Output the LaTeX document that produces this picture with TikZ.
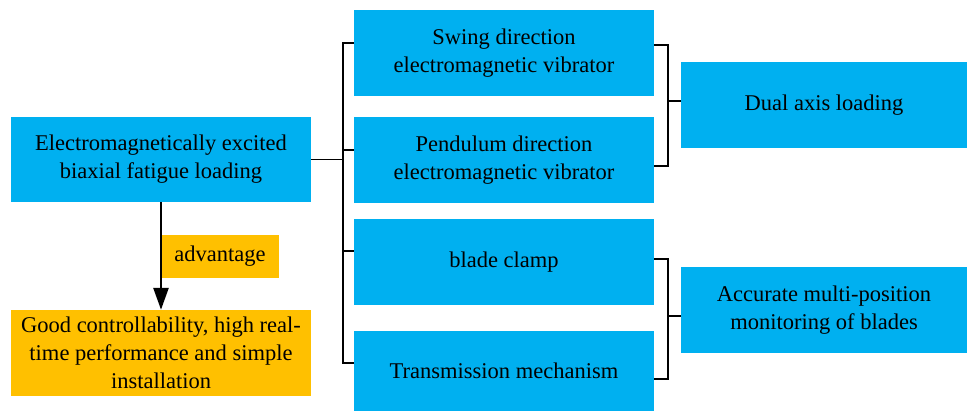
\documentclass[tikz,border=0pt]{standalone}
\usepackage{fontspec}
\IfFontExistsTF{LiberationSerif-Regular.ttf}
  {\newfontfamily\tnr{LiberationSerif-Regular.ttf}}
  {\newfontfamily\tnr{Liberation Serif}}
\usetikzlibrary{arrows.meta}
\definecolor{bblue}{HTML}{00B0F0}
\definecolor{borange}{HTML}{FFC000}
\tikzset{
  box/.style={fill=bblue, draw=none, inner sep=0pt, align=center,
    font=\tnr\fontsize{22.5}{28}\selectfont, text=black},
  obox/.style={box, fill=borange},
  link/.style={draw=black, line width=1.3pt},
}
\begin{document}
\begin{tikzpicture}[x=1pt,y=-1pt]
\useasboundingbox (0,0) rectangle (968,412);
\node[box, minimum width=300pt, minimum height=85pt] (main) at (161,159.5) {Electromagnetically excited\\biaxial fatigue loading};
\node[obox, minimum width=118pt, minimum height=43pt] (adv) at (220,256.5) {advantage};
\node[obox, minimum width=300pt, minimum height=86pt] (good) at (161,353) {Good controllability, high real-\\time performance and simple\\installation};
\node[box, minimum width=300pt, minimum height=86pt] (b1) at (504,53) {Swing direction\\electromagnetic vibrator};
\node[box, minimum width=300pt, minimum height=86pt] (b2) at (504,160) {Pendulum direction\\electromagnetic vibrator};
\node[box, minimum width=300pt, minimum height=86pt] (b3) at (504,262) {blade clamp};
\node[box, minimum width=300pt, minimum height=80pt] (b4) at (504,371) {Transmission mechanism};
\node[box, minimum width=286pt, minimum height=86pt] (dual) at (824,105) {Dual axis loading};
\node[box, minimum width=286pt, minimum height=86pt] (acc) at (824,310) {Accurate multi-position\\monitoring of blades};
\coordinate (lb) at (343,0);
\coordinate (rb) at (668,0);
% left bracket
\draw[link] (main.east) -- (main.east -| lb);
\draw[link] ([yshift=10pt]b1.west) -- ([yshift=10pt]b1.west -| lb) -- ([yshift=8pt]b4.west -| lb) -- ([yshift=8pt]b4.west);
\draw[link] ([yshift=10pt]b2.west -| lb) -- ([yshift=10pt]b2.west);
\draw[link] ([yshift=11pt]b3.west -| lb) -- ([yshift=11pt]b3.west);
% right brackets
\draw[link] ([yshift=8pt]b1.east) -- ([yshift=8pt]b1.east -| rb) -- ([yshift=-6pt]b2.east -| rb) -- ([yshift=-6pt]b2.east);
\draw[link] ([yshift=4pt]dual.west -| rb) -- ([yshift=4pt]dual.west);
\draw[link] ([yshift=3pt]b3.east) -- ([yshift=3pt]b3.east -| rb) -- ([yshift=-8pt]b4.east -| rb) -- ([yshift=-8pt]b4.east);
\draw[link] ([yshift=-6pt]acc.west -| rb) -- ([yshift=-6pt]acc.west);
% arrow
\draw[line width=2.6pt, -{Triangle[length=22pt,width=15pt]}] (main.south) -- (good.north);
\end{tikzpicture}
\end{document}
